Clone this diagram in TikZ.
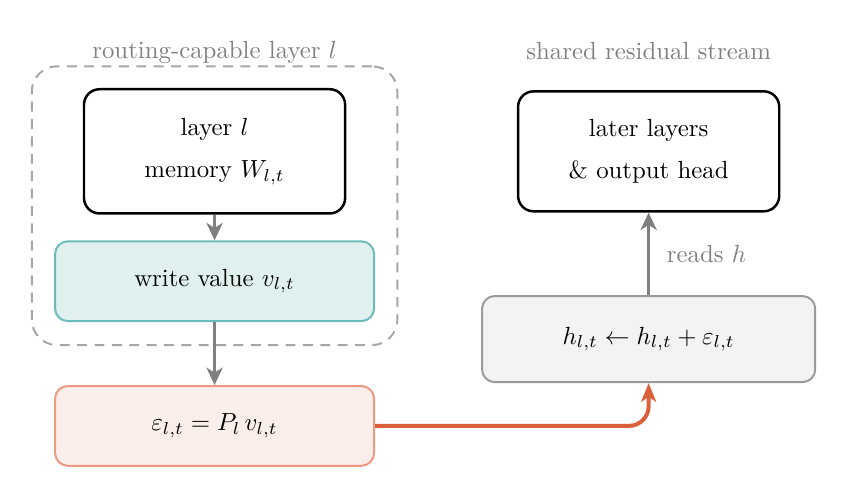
\documentclass[tikz,border=0pt]{standalone}
\usetikzlibrary{arrows.meta}

\definecolor{tealfill}{HTML}{DFF0EF}
\definecolor{tealline}{HTML}{6BBBBA}
\definecolor{epsfill}{HTML}{FAEEEA}
\definecolor{epsline}{HTML}{EC9A82}
\definecolor{flowline}{HTML}{D9603B}
\definecolor{streamfill}{HTML}{F3F3F3}
\definecolor{streamline}{HTML}{9A9A9A}
\definecolor{titlegray}{HTML}{808080}

\tikzset{
  blackbox/.style={draw=black, line width=1pt, rounded corners=0.22cm, align=center},
  writebox/.style={draw=tealline, fill=tealfill, line width=0.8pt, rounded corners=0.18cm},
  epsbox/.style={draw=epsline, fill=epsfill, line width=0.8pt, rounded corners=0.18cm},
  streambox/.style={draw=streamline, fill=streamfill, line width=0.8pt, rounded corners=0.18cm},
  groupbox/.style={draw=titlegray!70, line width=0.8pt, rounded corners=0.36cm, dash pattern=on 4pt off 3pt},
  grouptitle/.style={text=titlegray, anchor=base},
  readarrow/.style={draw=titlegray, line width=1.2pt, -{Stealth[length=7pt, width=6.5pt, inset=2pt]}},
  flowarrow/.style={draw=flowline, line width=1.6pt, rounded corners=0.28cm, -{Stealth[length=7.5pt, width=6pt, inset=2pt]}}
}

\begin{document}
\begin{tikzpicture}
\useasboundingbox (0,0) rectangle (12.0,7.054);
\def\leftx{3.04}
\def\rightx{9.19}

% left column: routing-capable layer
\node[groupbox, minimum width=5.18cm, minimum height=3.95cm] (group) at (\leftx,4.14) {};
\node[grouptitle] (grouplabel) at (\leftx,6.23) {routing-capable layer $l$};
\node[blackbox, minimum width=3.70cm, minimum height=1.76cm] (layer) at (\leftx,4.91) {layer $l$\\[5pt] memory $W_{l,t}$};
\node[writebox, minimum width=4.52cm, minimum height=1.13cm] (write) at (\leftx,3.07) {write value $v_{l,t}$};
\node[epsbox, minimum width=4.52cm, minimum height=1.13cm] (eps) at (\leftx,1.02) {$\varepsilon_{l,t} = P_l\, v_{l,t}$};

% right column: shared residual stream
\node[grouptitle] (streamlabel) at (\rightx,6.21) {shared residual stream};
\node[blackbox, minimum width=3.70cm, minimum height=1.70cm] (later) at (\rightx,4.91) {later layers\\[5pt] \& output head};
\node[streambox, minimum width=4.72cm, minimum height=1.22cm] (stream) at (\rightx,2.25) {$h_{l,t} \leftarrow h_{l,t} + \varepsilon_{l,t}$};

\draw[readarrow] (layer.south) -- (write.north);
\draw[readarrow] (write.south) -- (eps.north);
\draw[readarrow] (stream.north) -- node[right, xshift=0.12cm, text=titlegray] {reads $h$} (later.south);
\draw[flowarrow] (eps.east) -| (stream.south);

\end{tikzpicture}
\end{document}
